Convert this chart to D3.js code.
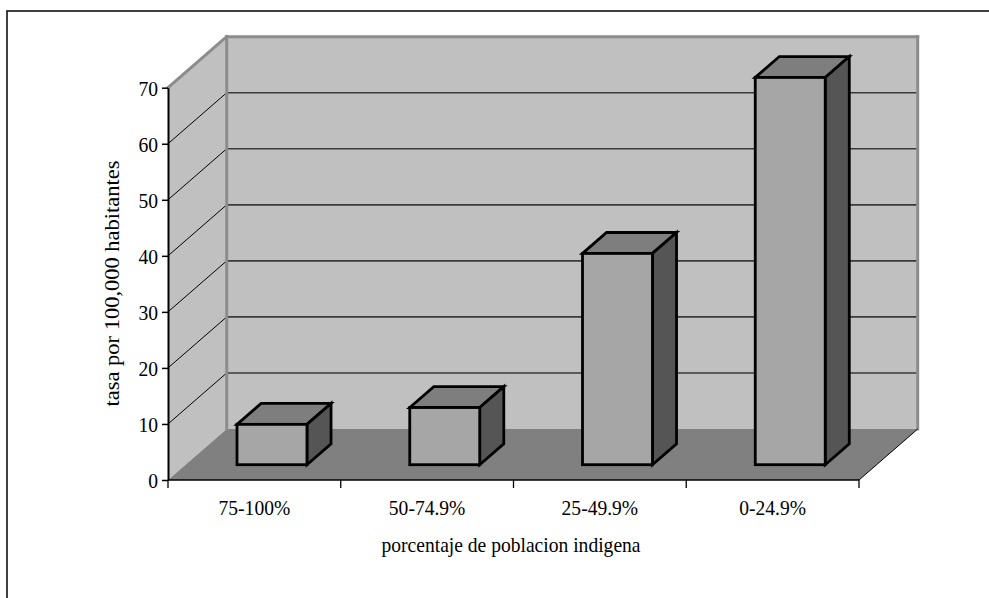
<!DOCTYPE html>
<html>
<head>
<meta charset="utf-8">
<script src="https://cdn.jsdelivr.net/npm/d3@7"></script>
<style>
  body { margin: 0; background: #fff; }
  svg { display: block; }
  text { font-family: "Liberation Serif", "Times New Roman", serif; fill: #000; }
</style>
</head>
<body>
<svg id="chart" width="989" height="598"></svg>
<script>
// Data
const categories = ["75-100%", "50-74.9%", "25-49.9%", "0-24.9%"];
const rates = [7.2, 10.2, 37.7, 69.1];
const yTicks = [0, 10, 20, 30, 40, 50, 60, 70];
const yTitle = "tasa por 100,000 habitantes";
const xTitle = "porcentaje de poblacion indigena";

const svg = d3.select("#chart");

// Plot geometry (front plane) and 3D depth offset
const left = 168, right = 859, base = 480, topY = 87.7;
const depthX = 58.7, depthY = -51;
const barFront = 0.3, barBack = 0.71;   // bar depth as fraction of floor depth

const y = d3.scaleLinear().domain([0, 70]).range([base, topY]);
const x = d3.scaleBand().domain(categories).range([left, right])
  .paddingInner(0.595).paddingOuter(0.2975);

const wallFill = "#c0c0c0", floorFill = "#808080", edgeGrey = "#8c8c8c";
const pts = a => a.map(p => p.join(",")).join(" ");

// Outer frame
svg.append("rect")
  .attr("x", 7).attr("y", 11).attr("width", 1000).attr("height", 700)
  .attr("fill", "none").attr("stroke", "#111").attr("stroke-width", 1.6);

const yMax = y.domain()[1];

// Back wall
svg.append("rect")
  .attr("x", left + depthX).attr("y", y(yMax) + depthY)
  .attr("width", right - left).attr("height", base - y(yMax))
  .attr("fill", wallFill);

// Side wall
svg.append("polygon")
  .attr("points", pts([[left, y(yMax)], [left + depthX, y(yMax) + depthY],
                       [left + depthX, base + depthY], [left, base]]))
  .attr("fill", wallFill);

// Floor
svg.append("polygon")
  .attr("points", pts([[left, base], [left + depthX, base + depthY],
                       [right + depthX, base + depthY], [right, base]]))
  .attr("fill", floorFill);

const inner = yTicks.filter(v => v > 0 && v < yMax);

// Gridlines on the back wall
svg.append("g").selectAll("line").data(inner).join("line")
  .attr("x1", left + depthX).attr("x2", right + depthX)
  .attr("y1", d => y(d) + depthY).attr("y2", d => y(d) + depthY)
  .attr("stroke", "#3a3a3a").attr("stroke-width", 1.6);

// Gridlines on the side wall
svg.append("g").selectAll("line").data(inner).join("line")
  .attr("x1", left).attr("y1", d => y(d))
  .attr("x2", left + depthX).attr("y2", d => y(d) + depthY)
  .attr("stroke", "#000").attr("stroke-width", 1);

// Wall edges
const edges = [
  [[left, y(yMax)], [left + depthX, y(yMax) + depthY]],
  [[left + depthX, y(yMax) + depthY], [right + depthX, y(yMax) + depthY]],
  [[right + depthX, y(yMax) + depthY], [right + depthX, base + depthY]],
  [[left + depthX, y(yMax) + depthY], [left + depthX, base + depthY]]
];
svg.append("g").selectAll("line").data(edges).join("line")
  .attr("x1", d => d[0][0]).attr("y1", d => d[0][1])
  .attr("x2", d => d[1][0]).attr("y2", d => d[1][1])
  .attr("stroke", edgeGrey).attr("stroke-width", 3).attr("stroke-linecap", "square");

// Floor right edge
svg.append("line")
  .attr("x1", right).attr("y1", base)
  .attr("x2", right + depthX).attr("y2", base + depthY)
  .attr("stroke", "#000").attr("stroke-width", 1);

// Bars (front, top and side faces)
const bars = svg.append("g").selectAll("g")
  .data(categories.map((c, i) => ({ c, v: rates[i] })))
  .join("g")
  .attr("stroke", "#000").attr("stroke-width", 2.8).attr("stroke-linejoin", "miter");

bars.each(function (d) {
  const g = d3.select(this);
  const fx = x(d.c) + barFront * depthX, fy = barFront * depthY;
  const bx = x(d.c) + barBack * depthX, by = barBack * depthY;
  const w = x.bandwidth();
  const yt = y(d.v), yb = y(0);
  g.append("polygon").attr("fill", "#7e7e7e")
    .attr("points", pts([[fx, yt + fy], [fx + w, yt + fy], [bx + w, yt + by], [bx, yt + by]]));
  g.append("polygon").attr("fill", "#555555")
    .attr("points", pts([[fx + w, yt + fy], [bx + w, yt + by], [bx + w, yb + by], [fx + w, yb + fy]]));
  g.append("rect").attr("fill", "#a6a6a6")
    .attr("x", fx).attr("y", yt + fy).attr("width", w).attr("height", yb - yt);
});

// Y axis
const fs = 21.5, squeeze = 0.91;
const yAxis = svg.append("g").attr("transform", `translate(${left},0)`)
  .call(d3.axisLeft(y).tickValues(yTicks).tickSize(6).tickSizeOuter(0).tickFormat(d3.format("d")));
yAxis.select(".domain").attr("stroke", "#000").attr("stroke-width", 2);
yAxis.selectAll(".tick line").attr("stroke", "#000").attr("stroke-width", 1.5);
yAxis.selectAll(".tick text")
  .attr("font-size", fs).attr("font-family", "Liberation Serif")
  .attr("x", -10 / squeeze).attr("dy", "0.34em")
  .attr("transform", `scale(${squeeze},1)`);

// X axis line and category boundary ticks
svg.append("line")
  .attr("x1", left).attr("x2", right).attr("y1", base).attr("y2", base)
  .attr("stroke", "#000").attr("stroke-width", 1.5);
svg.append("g").selectAll("line").data(d3.range(categories.length + 1)).join("line")
  .attr("x1", i => left + i * x.step()).attr("x2", i => left + i * x.step())
  .attr("y1", base).attr("y2", base + 8)
  .attr("stroke", "#000").attr("stroke-width", 1.3);

// X category labels
const xAxis = svg.append("g").attr("transform", `translate(${barFront * 0},${base})`)
  .call(d3.axisBottom(x).tickSize(0).tickPadding(0));
xAxis.select(".domain").remove();
xAxis.selectAll(".tick text")
  .attr("font-size", fs).attr("font-family", "Liberation Serif")
  .attr("y", 35).attr("dy", null)
  .attr("transform", `scale(${squeeze},1)`);

// Axis titles
svg.append("text")
  .attr("transform", `translate(511,552) scale(${squeeze},1)`)
  .attr("text-anchor", "middle").attr("font-size", fs)
  .text(xTitle);

svg.append("text")
  .attr("transform", "translate(118.5,283.5) rotate(-90) scale(1,0.92)")
  .attr("text-anchor", "middle").attr("font-size", 22.5)
  .text(yTitle);
</script>
</body>
</html>
